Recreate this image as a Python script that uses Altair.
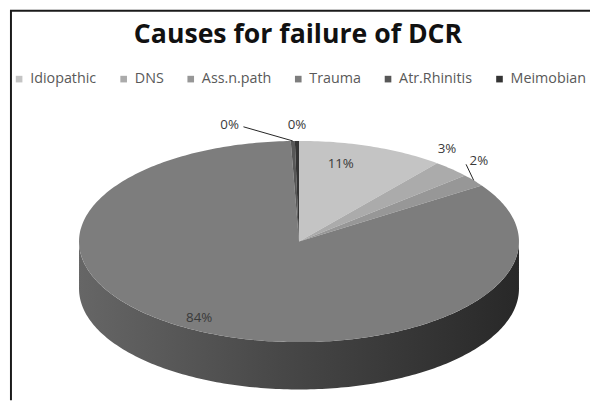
import altair as alt
import pandas as pd
import numpy as np

# ---- data ----
categories = ["Idiopathic", "DNS", "Ass.n.path", "Trauma", "Atr.Rhinitis", "Meimobian"]
values = [10.8, 2.8, 2.0, 83.8, 0.3, 0.3]
colors = ["#c4c4c4", "#ababab", "#979797", "#7d7d7d", "#575757", "#343434"]
title_text = "Causes for failure of DCR"

# ---- layout (chart pixels) ----
W, H = 590, 395
CX, CY, RX, RY, DEPTH = 295, 234, 223, 102, 48
# label placement: factor on rx, factor on ry, extra dx
label_layout = {
    "Idiopathic": (0.57, 0.82, 0),
    "DNS": (0.97, 1.28, 0),
    "Ass.n.path": (1.03, 1.31, 0),
    "Trauma": (1.0, 0.85, 0),
    "Atr.Rhinitis": (1.0, 1.16, -64),
    "Meimobian": (1.0, 1.16, 0),
}
leaders = {"Atr.Rhinitis": (14, 2), "Ass.n.path": (-13, 3)}

total = float(sum(values))
top_rows, wall_rows, lab_rows, lead_rows = [], [], [], []
start = 0.0
for c, v in zip(categories, values):
    a0 = start / total * 2 * np.pi
    a1 = (start + v) / total * 2 * np.pi
    start += v
    n = max(3, int(np.ceil((a1 - a0) / (2 * np.pi) * 360)) + 1)
    angs = np.linspace(a0, a1, n)
    pts = [(CX, CY)] + [(CX + RX * np.sin(a), CY - RY * np.cos(a)) for a in angs] + [(CX, CY)]
    for k, (x, y) in enumerate(pts):
        top_rows.append(dict(cat=c, order=k, x=x, y=y))
    # front wall (visible between 90 and 270 degrees)
    w0, w1 = max(a0, np.pi / 2), min(a1, 3 * np.pi / 2)
    if w1 > w0:
        m = max(3, int(np.ceil((w1 - w0) / (2 * np.pi) * 360)) + 1)
        wa = np.linspace(w0, w1, m)
        upper = [(CX + RX * np.sin(a), CY - RY * np.cos(a)) for a in wa]
        lower = [(x, y + DEPTH) for (x, y) in upper[::-1]]
        for k, (x, y) in enumerate(upper + lower + [upper[0]]):
            wall_rows.append(dict(cat=c, order=k, x=x, y=y))
    mid = (a0 + a1) / 2
    fx, fy, dx = label_layout[c]
    lx = CX + RX * fx * np.sin(mid) + dx
    ly = CY - RY * fy * np.cos(mid)
    lab_rows.append(dict(cat=c, x=lx, y=ly, label=f"{round(v / total * 100):.0f}%"))
    if c in leaders:
        ox, oy = leaders[c]
        ex, ey = CX + RX * np.sin(mid), CY - RY * np.cos(mid)
        lead_rows.append(dict(cat=c, x=lx + ox, y=ly + oy, x2=ex, y2=ey))

top_df = pd.DataFrame(top_rows)
wall_df = pd.DataFrame(wall_rows)
lab_df = pd.DataFrame(lab_rows)
lead_df = pd.DataFrame(lead_rows)

xs = alt.Scale(domain=[0, W], nice=False, zero=False)
ys = alt.Scale(domain=[0, H], nice=False, zero=False, reverse=True)

wall = alt.Chart(wall_df).mark_line(
    filled=True,
    strokeWidth=0,
    fill=alt.Gradient(
        gradient="linear",
        stops=[alt.GradientStop(color="#666666", offset=0),
               alt.GradientStop(color="#484848", offset=0.45),
               alt.GradientStop(color="#282828", offset=1)],
        x1=0, x2=1, y1=0, y2=0,
    ),
).encode(
    x=alt.X("x:Q", scale=xs, axis=None),
    y=alt.Y("y:Q", scale=ys, axis=None),
    detail="cat:N",
    order="order:Q",
)

top = alt.Chart(top_df).mark_line(filled=True, strokeWidth=0).encode(
    x=alt.X("x:Q", scale=xs, axis=None),
    y=alt.Y("y:Q", scale=ys, axis=None),
    color=alt.Color(
        "cat:N",
        scale=alt.Scale(domain=categories, range=colors),
        sort=categories,
        legend=alt.Legend(
            title=None, orient="none", legendX=4, legendY=62,
            direction="horizontal", columns=6,
            symbolType="square", symbolSize=45, symbolStrokeWidth=0,
            labelFont="Open Sans", labelFontSize=14.5, labelColor="#595959",
            columnPadding=20, labelOffset=4,
        ),
    ),
    order="order:Q",
)

leads = alt.Chart(lead_df).mark_rule(color="#222222", strokeWidth=1).encode(
    x=alt.X("x:Q", scale=xs, axis=None),
    y=alt.Y("y:Q", scale=ys, axis=None),
    x2="x2:Q",
    y2="y2:Q",
)

labels = alt.Chart(lab_df).mark_text(
    font="Open Sans", fontSize=13.5, color="#3a3a3a", align="center", baseline="middle"
).encode(
    x=alt.X("x:Q", scale=xs, axis=None),
    y=alt.Y("y:Q", scale=ys, axis=None),
    text="label:N",
)

title = alt.Chart(pd.DataFrame({"t": [title_text]})).mark_text(
    font="Open Sans", fontSize=27, fontWeight="bold", color="#111111",
    align="center", baseline="middle",
).encode(x=alt.value(W / 2 - 1), y=alt.value(25), text="t:N")

frame_left = alt.Chart(pd.DataFrame({"a": [0]})).mark_rule(color="#1a1a1a", strokeWidth=2).encode(
    x=alt.value(3), y=alt.value(0), y2=alt.value(H)
)
frame_top = alt.Chart(pd.DataFrame({"a": [0]})).mark_rule(color="#1a1a1a", strokeWidth=2).encode(
    x=alt.value(2), x2=alt.value(W), y=alt.value(0)
)

chart = alt.layer(wall, top, leads, labels, title, frame_left, frame_top).properties(
    width=W, height=H, padding=0,
    autosize=alt.AutoSizeParams(type="none"),
    background="white",
).configure_view(stroke=None)

chart.save("out.html", embed_options={"renderer": "svg", "actions": False})
